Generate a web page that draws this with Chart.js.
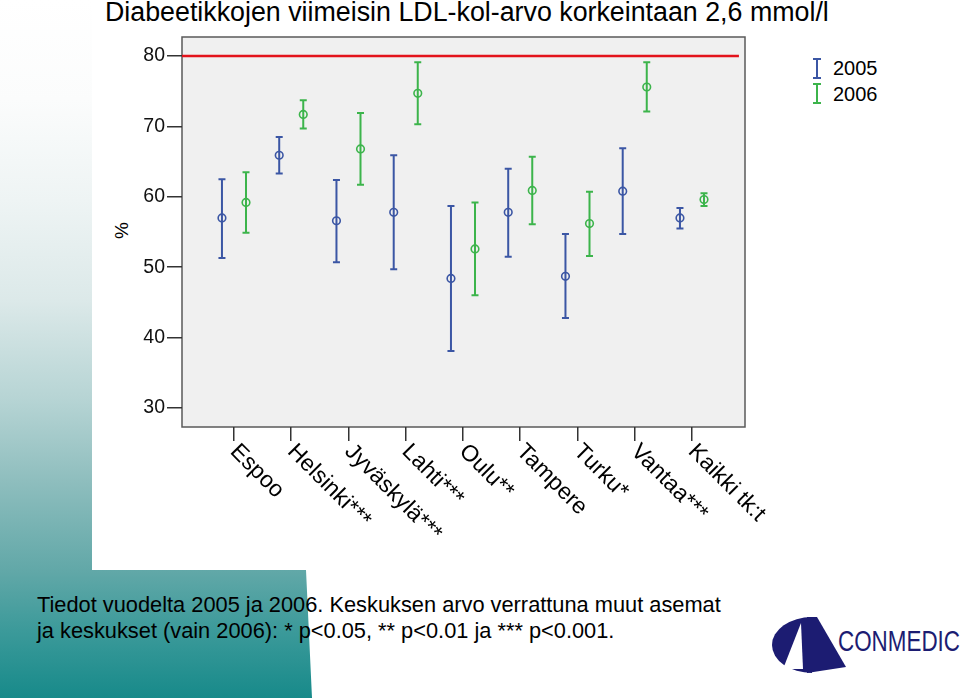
<!DOCTYPE html>
<html><head><meta charset="utf-8">
<script src="https://cdn.jsdelivr.net/npm/chart.js@4.4.1/dist/chart.umd.min.js"></script>
<style>
html,body{margin:0;padding:0;width:960px;height:698px;overflow:hidden;background:#fff;font-family:"Liberation Sans",Arial,sans-serif;}
#bg{position:absolute;left:0;top:0;width:312px;height:698px;
 clip-path:polygon(0 0,92px 0,92px 570px,306px 570px,312px 698px,0 698px);
 background:linear-gradient(to bottom,#ffffff 0px,#fbfcfc 100px,#eef4f4 200px,#dce9e9 300px,#b6d4d4 400px,#8fbebe 480px,#62a8a8 570px,#3c9a9a 630px,#178a8a 698px);}
#c{position:absolute;left:0;top:0;}
.t{position:absolute;white-space:nowrap;color:#000;line-height:1;}
</style></head>
<body>
<div id="bg"></div>
<div class="t" style="left:105px;top:-1px;font-size:26.8px;">Diabeetikkojen viimeisin LDL-kol-arvo korkeintaan 2,6 mmol/l</div>
<div class="t" style="left:113px;top:221px;font-size:19px;transform:rotate(-90deg);transform-origin:center;">%</div>
<div class="t" style="left:37px;top:592px;font-size:21.8px;line-height:26px;">Tiedot vuodelta 2005 ja 2006. Keskuksen arvo verrattuna muut asemat<br>ja keskukset (vain 2006): * p&lt;0.05, ** p&lt;0.01 ja *** p&lt;0.001.</div>
<div class="t" style="left:833px;top:58px;font-size:20px;">2005</div>
<div class="t" style="left:833px;top:84px;font-size:20px;">2006</div>
<svg style="position:absolute;left:0;top:0" width="960" height="698">
 <g stroke-width="2" fill="none">
  <path d="M817 59V78M813 59H821M813 78H821" stroke="#3b56a4"/>
  <path d="M817 84V103M813 84H821M813 103H821" stroke="#3cb44b"/>
 </g>
 <path d="M812 617 A40 28 0 0 0 812 673 Z" fill="#1c1c72"/>
 <polygon points="801,623 783,669 803,669" fill="#fff"/>
 <polygon points="807,617 817,617 846,667 807,673" fill="#1c1c72"/>
 <text x="838" y="651" font-family="Liberation Sans, Arial" font-size="29" fill="#1c1c72" textLength="122" lengthAdjust="spacingAndGlyphs">CONMEDIC</text>
</svg>
<canvas id="c" width="960" height="698"></canvas>
<script>
const categories = ["Espoo","Helsinki***","Jyväskylä***","Lahti***","Oulu**","Tampere","Turku*","Vantaa***","Kaikki tk:t"];
const seriesNames = ["2005","2006"];
const mean2005 = [57.0,65.9,56.6,57.8,48.4,57.8,48.7,60.8,57.0];
const low2005  = [51.3,63.3,50.7,49.7,38.1,51.5,42.8,54.7,55.5];
const high2005 = [62.5,68.5,62.4,65.9,58.7,64.0,54.7,66.9,58.4];
const mean2006 = [59.2,71.7,66.8,74.7,52.6,60.9,56.2,75.6,59.6];
const low2006  = [54.9,69.7,61.7,70.3,46.0,56.1,51.6,72.1,58.7];
const high2006 = [63.5,73.7,71.9,79.1,59.2,65.7,60.7,79.1,60.5];
const yTicks = [30,40,50,60,70,80];
const targetValue = 80;

const BLUE = "#3b56a4", GREEN = "#3cb44b", RED = "#e3131b";
const FONT = '"Liberation Sans", Arial, sans-serif';
const OFF = 0.21;
const X_MIN = -0.908, X_MAX = 8.926, LINE_END = 8.82;

const series = [
  {name:seriesNames[0], mean:mean2005, low:low2005, high:high2005, color:BLUE, off:-OFF},
  {name:seriesNames[1], mean:mean2006, low:low2006, high:high2006, color:GREEN, off:OFF}
];

const boxPlugin = {
  id:'box',
  beforeDraw(chart){
    const {ctx, chartArea:a} = chart;
    ctx.save();
    ctx.fillStyle = '#f0f0f0';
    ctx.fillRect(a.left, a.top, a.right-a.left, a.bottom-a.top);
    ctx.strokeStyle = '#5a5a5a';
    ctx.lineWidth = 1.5;
    ctx.strokeRect(a.left, a.top, a.right-a.left, a.bottom-a.top);
    ctx.restore();
  }
};
const whiskerPlugin = {
  id:'whiskers',
  beforeDatasetsDraw(chart){
    const {ctx, scales:{x,y}} = chart;
    ctx.save();
    ctx.lineWidth = 2;
    series.forEach(s=>{
      ctx.strokeStyle = s.color;
      s.mean.forEach((m,i)=>{
        const px = x.getPixelForValue(i + s.off);
        const yl = y.getPixelForValue(s.low[i]);
        const yh = y.getPixelForValue(s.high[i]);
        ctx.beginPath();
        ctx.moveTo(px, yl); ctx.lineTo(px, yh);
        ctx.moveTo(px-3.5, yh); ctx.lineTo(px+3.5, yh);
        ctx.moveTo(px-3.5, yl); ctx.lineTo(px+3.5, yl);
        ctx.stroke();
      });
    });
    ctx.restore();
  }
};
const xLabelPlugin = {
  id:'xlabels',
  afterDraw(chart){
    const {ctx, scales:{x}, chartArea:a} = chart;
    ctx.save();
    ctx.font = '23px ' + FONT;
    ctx.fillStyle = '#000';
    ctx.textAlign = 'left';
    ctx.textBaseline = 'top';
    categories.forEach((c,i)=>{
      const px = x.getPixelForValue(i);
      ctx.save();
      ctx.translate(px + 8, a.bottom + 13);
      ctx.rotate(Math.PI/4);
      ctx.fillText(c, 0, 0);
      ctx.restore();
    });
    ctx.restore();
  }
};

const datasets = [
  {type:'line', label:'target', data:[{x:X_MIN,y:targetValue},{x:LINE_END,y:targetValue}],
   borderColor:RED, borderWidth:2.5, pointRadius:0, order:3},
  ...series.map(s=>({
    type:'scatter', label:s.name,
    data:s.mean.map((m,i)=>({x:i+s.off, y:m})),
    borderColor:s.color, backgroundColor:'rgba(0,0,0,0)', borderWidth:1.6,
    pointRadius:3.8, pointHoverRadius:3.8, order:1
  }))
];

new Chart(document.getElementById('c'), {
  type:'scatter',
  data:{datasets},
  options:{
    responsive:false, animation:false, devicePixelRatio:1,
    layout:{padding:{left:0, right:215, top:37, bottom:0}},
    plugins:{legend:{display:false}, tooltip:{enabled:false}, title:{display:false}},
    scales:{
      x:{type:'linear', min:X_MIN, max:X_MAX,
        afterBuildTicks(s){ s.ticks = categories.map((_,i)=>({value:i})); },
        afterFit(s){ s.height = 698-427; },
        ticks:{display:false},
        grid:{drawOnChartArea:false, drawTicks:true, tickLength:14, color:'#333', lineWidth:1.5},
        border:{display:false}
      },
      y:{type:'linear', min:27.3, max:82.7,
        afterBuildTicks(s){ s.ticks = yTicks.map(v=>({value:v})); },
        afterFit(s){ s.width = 182; },
        ticks:{font:{family:FONT, size:19.5}, color:'#111', padding:2},
        grid:{drawOnChartArea:false, drawTicks:true, tickLength:15, color:'#333', lineWidth:1.5},
        border:{display:false}
      }
    }
  },
  plugins:[boxPlugin, whiskerPlugin, xLabelPlugin]
});
</script>
</body></html>
